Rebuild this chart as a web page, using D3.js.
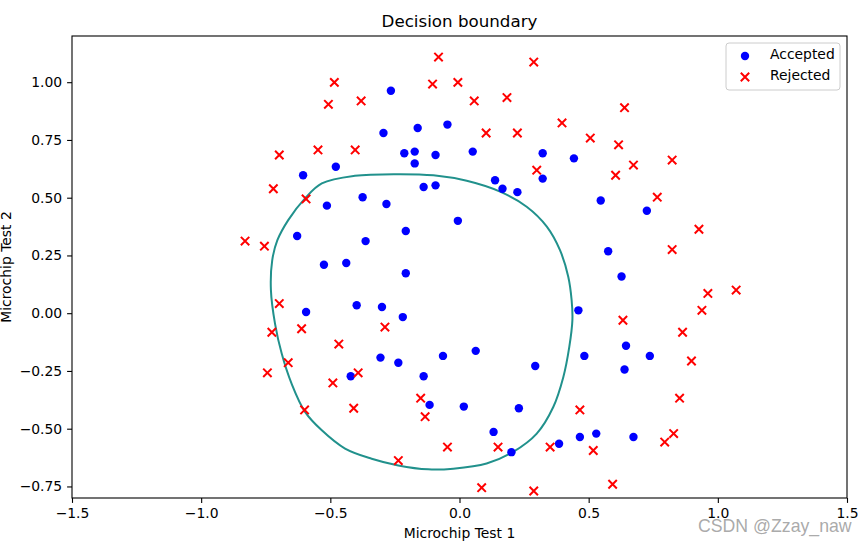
<!DOCTYPE html>
<html>
<head>
<meta charset="utf-8">
<script src="https://cdn.jsdelivr.net/npm/d3@7"></script>
<style>
  body { margin: 0; background: #fff; }
  text { font-family: "DejaVu Sans", sans-serif; }
</style>
</head>
<body>
<svg id="chart" width="868" height="545"></svg>
<script>
// Microchip tests, accepted samples
var acceptedX = [0.051267, -0.092742, -0.21371, -0.375, -0.51325, -0.52477, -0.39804, -0.30588, 0.016705, 0.13191,
  0.38537, 0.52938, 0.63882, 0.73675, 0.54666, 0.322, 0.16647, -0.046659, -0.17339, -0.47869,
  -0.60541, -0.62846, -0.59389, -0.42108, -0.11578, 0.20104, 0.46601, 0.67339, -0.13882, -0.29435,
  -0.26555, -0.16187, -0.17339, -0.28283, -0.36348, -0.30012, -0.23675, -0.06394, 0.062788, 0.22984,
  0.2932, 0.48329, 0.64459, 0.46025, 0.6273, 0.57546, 0.72523, 0.22408, 0.44297, 0.322,
  0.13767, -0.0063364, -0.092742, -0.20795, -0.20795, -0.43836, -0.21947, -0.13882];
var acceptedY = [0.69956, 0.68494, 0.69225, 0.50219, 0.46564, 0.2098, 0.034357, -0.19225, -0.40424, -0.51389,
  -0.56506, -0.5212, -0.24342, -0.18494, 0.48757, 0.5826, 0.53874, 0.81652, 0.69956, 0.63377,
  0.59722, 0.33406, 0.005117, -0.27266, -0.39693, -0.60161, -0.53582, -0.53582, 0.54605, 0.77997,
  0.96272, 0.8019, 0.64839, 0.47295, 0.31213, 0.027047, -0.21418, -0.18494, -0.16301, -0.41155,
  -0.2288, -0.18494, -0.14108, 0.012427, 0.15863, 0.26827, 0.44371, 0.52412, 0.67032, 0.69225,
  0.57529, 0.39985, 0.55336, 0.35599, 0.17325, 0.21711, -0.016813, -0.27266];

// rejected samples
var rejectedX = [0.18376, 0.22408, 0.29896, 0.50634, 0.61578, 0.60426, 0.76555, 0.92684, 0.82316, 0.96141,
  0.93836, 0.86348, 0.89804, 0.85196, 0.82892, 0.79435, 0.59274, 0.51786, 0.46601, 0.35081,
  0.28744, 0.085829, 0.14919, -0.13306, -0.40956, -0.39228, -0.74366, -0.69758, -0.75518, -0.69758,
  -0.4038, -0.38076, -0.50749, -0.54781, 0.10311, 0.057028, -0.10426, -0.081221, 0.28744, 0.39689,
  0.63882, 0.82316, 0.67339, 1.0709, -0.046659, -0.23675, -0.15035, -0.49021, -0.46717, -0.28859,
  -0.61118, -0.66302, -0.59965, -0.72638, -0.83007, -0.72062, -0.59389, -0.48445, -0.0063364, 0.63265];
var rejectedY = [0.93348, 0.77997, 0.61915, 0.75804, 0.7288, 0.59722, 0.50219, 0.3633, 0.27558, 0.085526,
  0.012427, -0.082602, -0.20687, -0.36769, -0.5212, -0.55775, -0.7405, -0.5943, -0.41886, -0.57968,
  -0.76974, -0.75512, -0.57968, -0.4481, -0.41155, -0.25804, -0.25804, 0.041667, 0.2902, 0.68494,
  0.70687, 0.91886, 0.90424, 0.70687, 0.77997, 0.91886, 0.99196, 1.1089, 1.087, 0.82383,
  0.88962, 0.66301, 0.64108, 0.10015, -0.57968, -0.63816, -0.36769, -0.3019, -0.13377, -0.0599,
  -0.067251, -0.21418, -0.41886, -0.082602, 0.31213, 0.53874, 0.49488, 0.99927, 0.99927, -0.030612];

// decision boundary (closed loop)
var boundaryX = [-0.238, -0.101, 0.028, 0.157, 0.260, 0.338, 0.389, 0.421, 0.434, 0.437, 0.425, 0.402, 0.363, 0.299,
  0.208, 0.105, -0.024, -0.121, -0.237, -0.340, -0.443, -0.533, -0.598, -0.650, -0.688, -0.714, -0.730,
  -0.725, -0.705, -0.663, -0.598, -0.533, -0.405];
var boundaryY = [0.602, 0.597, 0.573, 0.526, 0.461, 0.375, 0.273, 0.158, 0.057, -0.030, -0.146, -0.276, -0.406, -0.521,
  -0.600, -0.651, -0.673, -0.676, -0.659, -0.630, -0.586, -0.507, -0.427, -0.305, -0.176, -0.046, 0.100,
  0.229, 0.316, 0.403, 0.497, 0.562, 0.595];

var xTicks = [-1.5, -1.0, -0.5, 0.0, 0.5, 1.0, 1.5];
var yTicks = [-0.75, -0.5, -0.25, 0.0, 0.25, 0.5, 0.75, 1.0];

// axes box in pixels (window.top is reserved, so no "top" here)
var axLeft = 72, axRight = 847, axTop = 36, axBottom = 498;
var fontSize = 13.9;

var svg = d3.select('#chart');
var x = d3.scaleLinear().domain([-1.5, 1.5]).range([axLeft, axRight]);
var y = d3.scaleLinear().domain([-0.8, 1.2]).range([axBottom, axTop]);

var accepted = acceptedX.map(function (d, i) { return [d, acceptedY[i]]; });
var rejected = rejectedX.map(function (d, i) { return [d, rejectedY[i]]; });
var boundary = boundaryX.map(function (d, i) { return [d, boundaryY[i]]; });

var plot = svg.append('g');

// boundary line
var line = d3.line()
    .x(function (d) { return x(d[0]); })
    .y(function (d) { return y(d[1]); })
    .curve(d3.curveCatmullRomClosed.alpha(0.5));
plot.append('path')
    .datum(boundary)
    .attr('d', line)
    .attr('fill', 'none')
    .attr('stroke', '#21918c')
    .attr('stroke-width', 2);

var r = 4.2;
var crossPath = 'M' + (-r) + ',' + (-r) + 'L' + r + ',' + r + 'M' + (-r) + ',' + r + 'L' + r + ',' + (-r);

plot.selectAll('circle.acc')
    .data(accepted)
    .enter()
    .append('circle')
    .attr('class', 'acc')
    .attr('cx', function (d) { return x(d[0]); })
    .attr('cy', function (d) { return y(d[1]); })
    .attr('r', r)
    .attr('fill', '#0000ff');

plot.selectAll('path.rej')
    .data(rejected)
    .enter()
    .append('path')
    .attr('class', 'rej')
    .attr('d', crossPath)
    .attr('transform', function (d) { return 'translate(' + x(d[0]) + ',' + y(d[1]) + ')'; })
    .attr('stroke', '#ff0000')
    .attr('stroke-width', 2)
    .attr('fill', 'none');

// axes
var xAxis = d3.axisBottom(x).tickValues(xTicks).tickFormat(d3.format('.1f'))
    .tickSize(4.9).tickPadding(4.9).tickSizeOuter(0);
var yAxis = d3.axisLeft(y).tickValues(yTicks).tickFormat(d3.format('.2f'))
    .tickSize(4.9).tickPadding(4.9).tickSizeOuter(0);

var gx = svg.append('g').attr('transform', 'translate(0,' + axBottom + ')').call(xAxis);
var gy = svg.append('g').attr('transform', 'translate(' + axLeft + ',0)').call(yAxis);
[gx, gy].forEach(function (g) {
    g.select('.domain').remove();
    g.selectAll('line').attr('stroke', '#000').attr('stroke-width', 1.1);
    g.selectAll('text')
        .attr('fill', '#000')
        .style('font-family', '"DejaVu Sans", sans-serif')
        .style('font-size', fontSize + 'px');
});

// frame
svg.append('rect')
    .attr('x', axLeft).attr('y', axTop)
    .attr('width', axRight - axLeft).attr('height', axBottom - axTop)
    .attr('fill', 'none')
    .attr('stroke', '#000')
    .attr('stroke-width', 1.1);

// labels
svg.append('text')
    .attr('x', (axLeft + axRight) / 2).attr('y', 27)
    .attr('text-anchor', 'middle')
    .style('font-size', '16.7px')
    .text('Decision boundary');
svg.append('text')
    .attr('x', (axLeft + axRight) / 2).attr('y', 538)
    .attr('text-anchor', 'middle')
    .style('font-size', fontSize + 'px')
    .text('Microchip Test 1');
svg.append('text')
    .attr('transform', 'translate(11,' + ((axTop + axBottom) / 2) + ') rotate(-90)')
    .attr('text-anchor', 'middle')
    .style('font-size', fontSize + 'px')
    .text('Microchip Test 2');

// legend
var legend = svg.append('g');
legend.append('rect')
    .attr('x', 726).attr('y', 43)
    .attr('width', 114).attr('height', 47)
    .attr('rx', 3)
    .attr('fill', '#fff').attr('fill-opacity', 0.8)
    .attr('stroke', '#cccccc').attr('stroke-width', 1);
legend.append('circle')
    .attr('cx', 745).attr('cy', 56)
    .attr('r', r).attr('fill', '#0000ff');
legend.append('path')
    .attr('d', crossPath)
    .attr('transform', 'translate(745,77)')
    .attr('stroke', '#ff0000').attr('stroke-width', 2);
legend.append('text')
    .attr('x', 770).attr('y', 59)
    .style('font-size', fontSize + 'px')
    .text('Accepted');
legend.append('text')
    .attr('x', 770).attr('y', 80)
    .style('font-size', fontSize + 'px')
    .text('Rejected');

// watermark
svg.append('text')
    .attr('x', 698).attr('y', 532)
    .style('font-family', '"Liberation Sans", Arial, sans-serif')
    .style('font-size', '17.7px')
    .attr('fill', '#a0a0a0')
    .attr('fill-opacity', 0.9)
    .text('CSDN @Zzay_naw');
</script>
</body>
</html>
